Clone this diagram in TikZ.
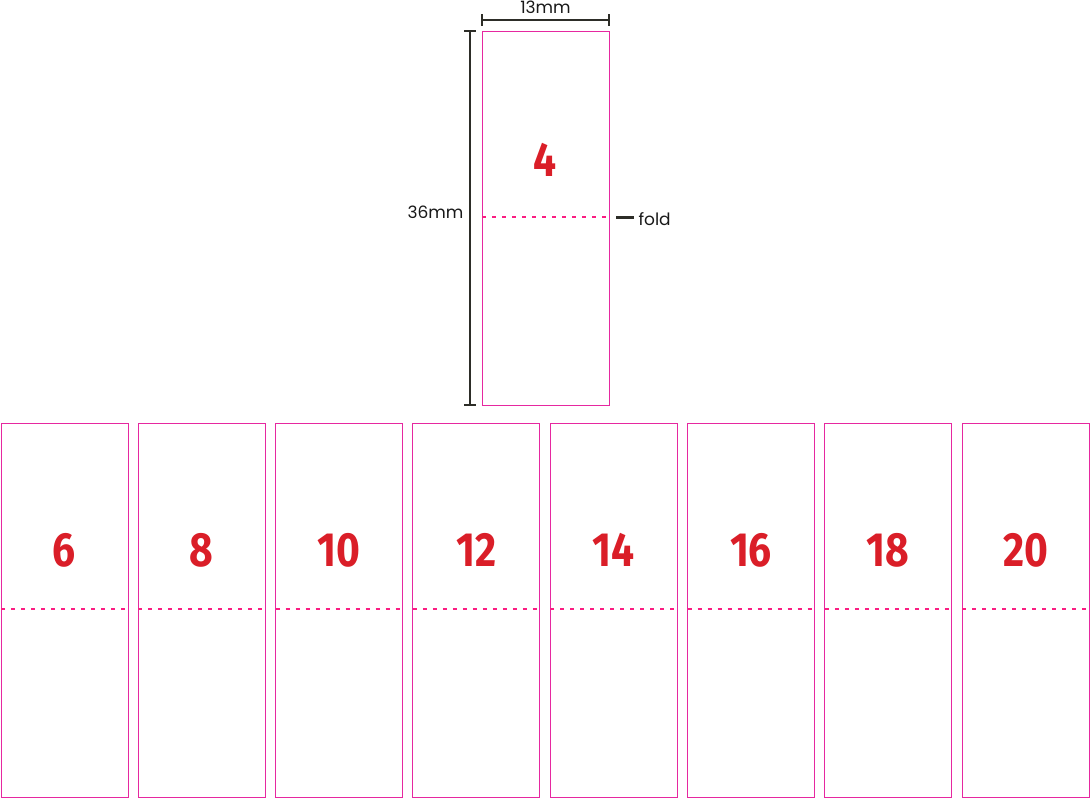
\documentclass[tikz,border=0pt]{standalone}
\usepackage{fontspec}
\setmainfont{Poppins}
\newfontfamily\numfont{Fira Sans}
\definecolor{pinkline}{RGB}{230,40,160}
\definecolor{foldpink}{RGB}{250,30,130}
\definecolor{numred}{RGB}{218,30,40}
\definecolor{dimgrey}{RGB}{45,45,40}
\begin{document}
\begin{tikzpicture}[x=1pt,y=-1pt,
  card/.style={draw=pinkline, line width=1pt},
  foldline/.style={draw=foldpink, line width=1.3pt, dash pattern=on 4pt off 6pt},
  num/.style={text=numred, font=\numfont\bfseries\fontsize{48}{48}\selectfont, xscale=0.85},
  dim/.style={draw=dimgrey, line width=2pt},
  lbl/.style={font=\fontsize{17}{17}\selectfont, text=black!90}]
\useasboundingbox (0,0) rectangle (1092,798);
% top card
\draw[card] (482,31) rectangle (609,405);
\draw[foldline] (482,217) -- (609,217);
\node[num] (n4) at (545.5,160) {4};
% dimensions
\coordinate (vt) at (470,31); \coordinate (vb) at (470,405);
\draw[dim] (vt) -- (vb);
\draw[dim] (464,31) -- (476,31); \draw[dim] (464,405) -- (476,405);
\node[lbl, anchor=east] (l36) at (467,212) {36mm};
\coordinate (hl) at (482,20); \coordinate (hr) at (609,20);
\draw[dim] (hl) -- (hr);
\draw[dim] (482,14) -- (482,26); \draw[dim] (609,14) -- (609,26);
\node[lbl] (l13) at (545.5,7) {13mm};
\coordinate (f1) at (616,217); \coordinate (f2) at (634,217);
\draw[dim,line width=3pt] (f1) -- (f2);
\node[lbl, anchor=west] (lf) at (635,219) {fold};
% bottom cards
\foreach \i/\n in {0/6,1/8,2/10,3/12,4/14,5/16,6/18,7/20}{
  \pgfmathsetmacro{\xa}{1+137.3*\i}
  \pgfmathsetmacro{\xb}{\xa+127}
  \draw[card] (\xa,423) rectangle (\xb,797);
  \draw[foldline] (\xa,609) -- (\xb,609);
  \node[num] (b\i) at ({\xa+63.5},550) {\n};
}
\end{tikzpicture}
\end{document}
